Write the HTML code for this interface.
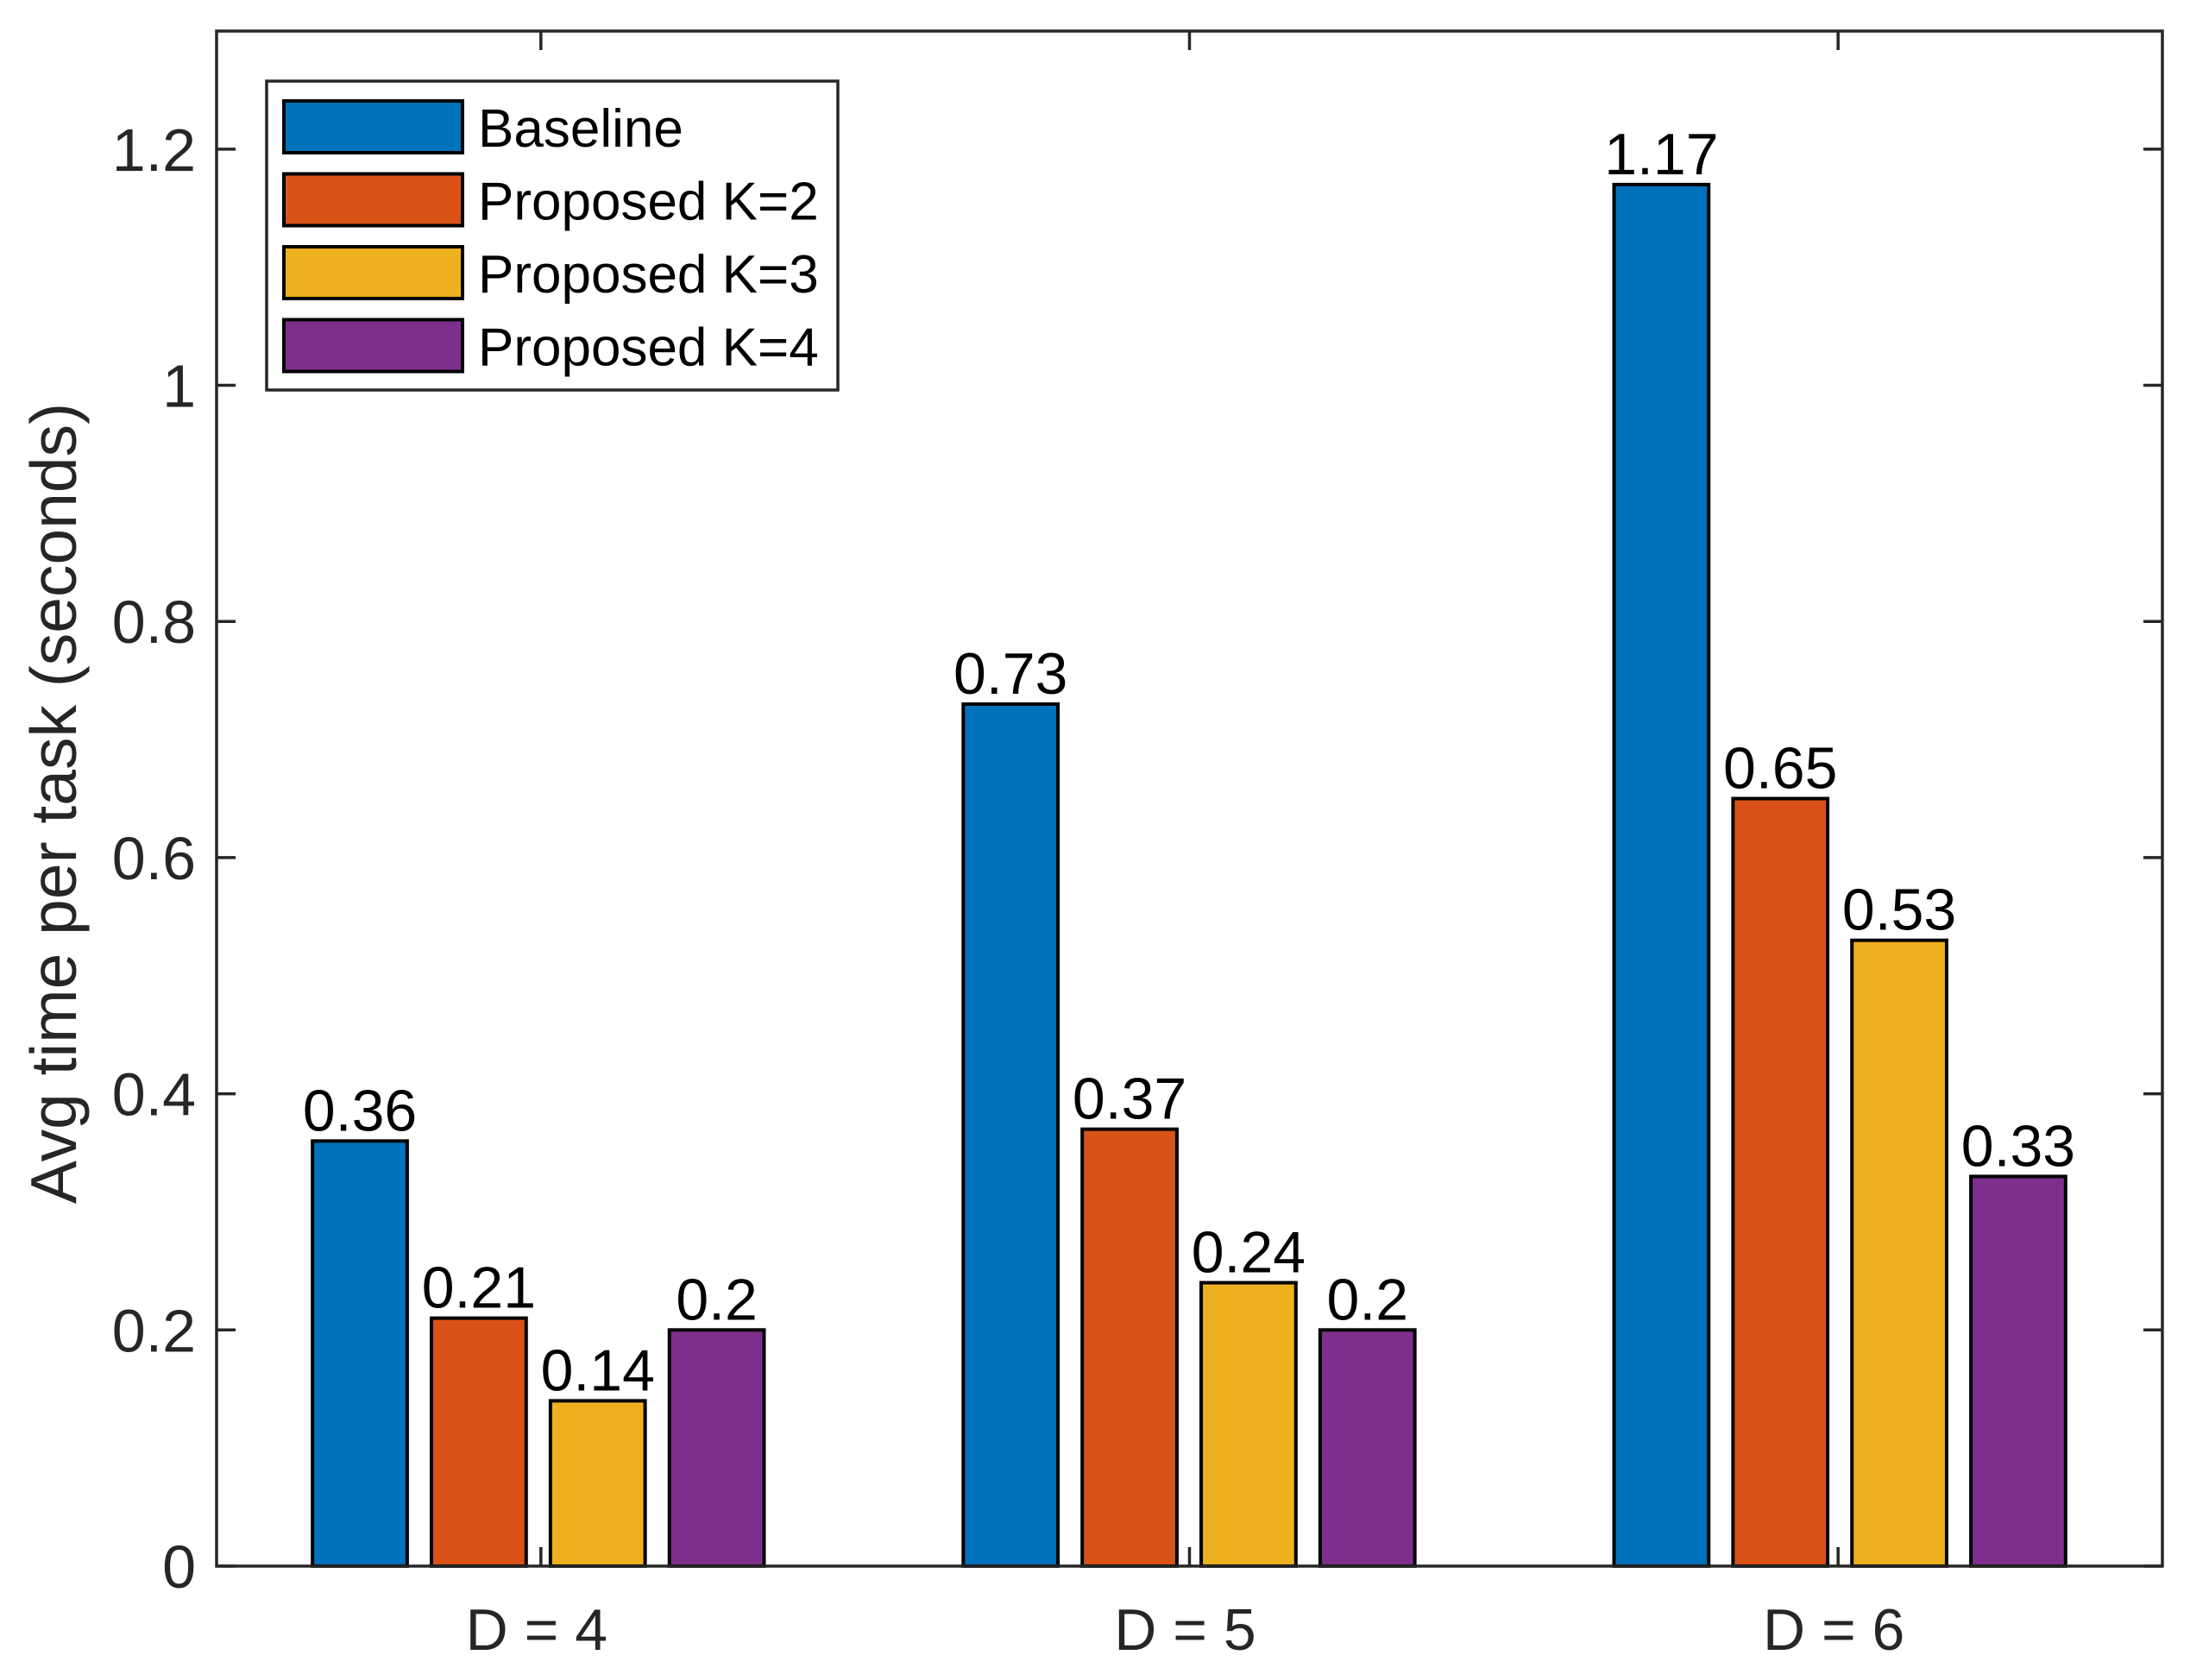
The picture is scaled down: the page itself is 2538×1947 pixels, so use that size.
<!DOCTYPE html>
<html><head><meta charset="utf-8"><style>
html,body{margin:0;padding:0;background:#fff}
svg text{font-family:"Liberation Sans",Arial,sans-serif}
</style></head><body>
<svg id="chart" width="2538" height="1942" viewBox="0 0 2538 1942" xmlns="http://www.w3.org/2000/svg">
<rect width="2538" height="1942" fill="#fff"/>
<g id="bars"></g>
<g id="axes"></g>
<g id="legend"></g>
</svg>
<script>
const categories = ["D = 4", "D = 5", "D = 6"];
const seriesNames = ["Baseline", "Proposed K=2", "Proposed K=3", "Proposed K=4"];
const baseline = [0.36, 0.73, 1.17];
const k2 = [0.21, 0.37, 0.65];
const k3 = [0.14, 0.24, 0.53];
const k4 = [0.2, 0.2, 0.33];
const yTicks = [0, 0.2, 0.4, 0.6, 0.8, 1, 1.2];
const yTickLabels = ["0", "0.2", "0.4", "0.6", "0.8", "1", "1.2"];
const colors = ["#0072BD", "#D95319", "#EDB120", "#7E2F8E"];

const NS = "http://www.w3.org/2000/svg";
const L = 251, R = 2506, T = 36, B = 1815;
const yMax = 1.3;
const x = v => L + (v - 0.5) / 3 * (R - L);
const y = v => B - v / yMax * (B - T);
function mk(tag, attrs, parent, text) {
  const e = document.createElementNS(NS, tag);
  for (const k in attrs) e.setAttribute(k, attrs[k]);
  if (text !== undefined) e.textContent = text;
  parent.appendChild(e);
  return e;
}
const series = [baseline, k2, k3, k4];
const barsG = document.getElementById('bars');
const offsets = [-1.5, -0.5, 0.5, 1.5];
const spacing = 0.1834, bw = 0.146;
series.forEach((vals, s) => {
  vals.forEach((v, i) => {
    const cx = x(i + 1 + offsets[s] * spacing) - 3 + i * 2.5;
    const w = bw / 3 * (R - L);
    const r = mk('rect', {x: cx - w / 2, y: y(v), width: w, height: y(0) - y(v), fill: colors[s], stroke: '#000', 'stroke-width': 4}, barsG);
    
    
    const t = mk('text', {x: cx, y: y(v) - 12, 'text-anchor': 'middle', 'font-size': 68, fill: '#000'}, barsG, String(v));
    
    
  });
});
const ax = document.getElementById('axes');
mk('rect', {x: L, y: T, width: R - L, height: B - T, fill: 'none', stroke: '#262626', 'stroke-width': 3.5}, ax);
yTicks.forEach((v, i) => {
  mk('line', {x1: L, x2: L + 22, y1: y(v), y2: y(v), stroke: '#262626', 'stroke-width': 3.5}, ax);
  mk('line', {x1: R, x2: R - 22, y1: y(v), y2: y(v), stroke: '#262626', 'stroke-width': 3.5}, ax);
  const t = mk('text', {x: L - 24, y: y(v) + 25, 'text-anchor': 'end', 'font-size': 70, fill: '#262626'}, ax, yTickLabels[i]);
  
  
});
categories.forEach((c, i) => {
  const cx = x(i + 1);
  mk('line', {x1: cx, x2: cx, y1: B, y2: B - 22, stroke: '#262626', 'stroke-width': 3.5}, ax);
  mk('line', {x1: cx, x2: cx, y1: T, y2: T + 22, stroke: '#262626', 'stroke-width': 3.5}, ax);
  const t = mk('text', {x: cx - 5, y: B + 97, 'text-anchor': 'middle', 'font-size': 68, fill: '#262626'}, ax, c);
  
  
});
const yl = mk('text', {x: 0, y: 0, transform: 'translate(88,931) rotate(-90)', 'text-anchor': 'middle', 'font-size': 75, fill: '#262626'}, ax, 'Avg time per task (seconds)');


const lg = document.getElementById('legend');
mk('rect', {x: 309, y: 94, width: 662, height: 358, fill: '#fff', stroke: '#262626', 'stroke-width': 3.5}, lg);
seriesNames.forEach((n, s) => {
  const cy = 147 + s * 84.5;
  const sw = mk('rect', {x: 329, y: cy - 30, width: 207, height: 60, fill: colors[s], stroke: '#000', 'stroke-width': 4}, lg);
  
  
  const t = mk('text', {x: 554, y: cy + 23, 'font-size': 62, fill: '#000'}, lg, n);
  
  
});
</script>
</body></html>
